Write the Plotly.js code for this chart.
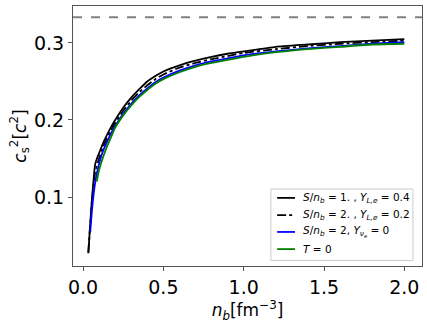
<!DOCTYPE html>
<html>
<head>
<meta charset="utf-8">
<script src="https://cdn.plot.ly/plotly-3.0.1.min.js"></script>
<style>html,body{margin:0;padding:0;background:#fff;}#chart{width:427px;height:325px;}</style>
</head>
<body>
<div id="chart"></div>
<script>
// Series 1: S/n_b = 1., Y_L,e = 0.4
const nb1 = [0.033,0.045,0.055,0.065,0.075,0.085,0.1,0.125,0.15,0.175,0.2,0.25,0.3,0.35,0.4,0.45,0.5,0.6,0.7,0.8,0.9,1.0,1.2,1.4,1.6,1.8,2.0];
const cs1 = [0.027,0.066,0.096,0.121,0.142,0.149,0.157,0.170,0.181,0.191,0.200,0.216,0.229,0.240,0.250,0.257,0.263,0.271,0.277,0.282,0.286,0.289,0.295,0.298,0.301,0.303,0.305];
// Series 2: S/n_b = 2., Y_L,e = 0.2
const nb2 = [0.033,0.045,0.055,0.065,0.075,0.085,0.1,0.125,0.15,0.175,0.2,0.25,0.3,0.35,0.4,0.45,0.5,0.6,0.7,0.8,0.9,1.0,1.2,1.4,1.6,1.8,2.0];
const cs2 = [0.028,0.066,0.094,0.115,0.132,0.140,0.150,0.165,0.177,0.187,0.196,0.212,0.225,0.236,0.245,0.253,0.259,0.268,0.274,0.279,0.283,0.287,0.292,0.296,0.299,0.301,0.303];
// Series 3: S/n_b = 2, Y_nu_e = 0
const nb3 = [0.045,0.055,0.065,0.075,0.085,0.1,0.125,0.15,0.175,0.2,0.25,0.3,0.35,0.4,0.45,0.5,0.6,0.7,0.8,0.9,1.0,1.2,1.4,1.6,1.8,2.0];
const cs3 = [0.055,0.082,0.102,0.118,0.130,0.143,0.160,0.172,0.183,0.192,0.208,0.221,0.232,0.241,0.249,0.255,0.264,0.271,0.276,0.280,0.284,0.289,0.293,0.296,0.299,0.301];
// Series 4: T = 0
const nb4 = [0.085,0.1,0.125,0.15,0.175,0.2,0.25,0.3,0.35,0.4,0.45,0.5,0.6,0.7,0.8,0.9,1.0,1.2,1.4,1.6,1.8,2.0];
const cs4 = [0.120,0.135,0.152,0.166,0.178,0.190,0.206,0.219,0.230,0.239,0.247,0.253,0.262,0.269,0.274,0.278,0.282,0.288,0.292,0.295,0.298,0.299];
// Conformal limit
const conformal = 1/3;
const xRange = [-0.0625, 2.11];
const yRange = [0.0104, 0.348];

const names = [
  "<i>S</i>/<i>n</i><sub><i>b</i></sub> = 1. , <i>Y</i><sub><i>L,e</i></sub> = 0.4",
  "<i>S</i>/<i>n</i><sub><i>b</i></sub> = 2. , <i>Y</i><sub><i>L,e</i></sub> = 0.2",
  "<i>S</i>/<i>n</i><sub><i>b</i></sub> = 2, <i>Y</i><sub><i>ν<sub>e</sub></i></sub> = 0",
  "<i>T</i> = 0"
];
const colors = ['#000000', '#000000', '#0000ff', '#008000'];
const dashes = ['solid', 'dashdot', 'solid', 'solid'];

const series = [[nb1, cs1], [nb2, cs2], [nb3, cs3], [nb4, cs4]];
const traces = series.map((s, i) => ({
  x: s[0], y: s[1], mode: 'lines', name: names[i], showlegend: false,
  line: {color: colors[i], width: 1.8, dash: dashes[i], shape: 'spline', smoothing: 0.5}
}));
traces.push({x: xRange, y: [conformal, conformal], mode: 'lines', showlegend: false,
  line: {color: '#808080', width: 2, dash: 'dash'}});

// Manual legend (compact like the reference)
const legX0 = 0.567, legX1 = 0.974, legY0 = 0.021, legY1 = 0.296;
const rowY = [0.262, 0.196, 0.131, 0.065];
const shapes = [{type: 'rect', xref: 'paper', yref: 'paper', x0: legX0, x1: legX1, y0: legY0, y1: legY1,
  line: {color: '#cccccc', width: 1}, fillcolor: 'rgba(255,255,255,0.85)', layer: 'above'}];
const annotations = [];
rowY.forEach((y, i) => {
  shapes.push({type: 'line', xref: 'paper', yref: 'paper', x0: 0.585, x1: 0.636, y0: y, y1: y,
    line: {color: colors[i], width: 1.8, dash: dashes[i]}, layer: 'above'});
  annotations.push({xref: 'paper', yref: 'paper', x: 0.654, y: y, xanchor: 'left', yanchor: 'middle',
    text: names[i], showarrow: false, font: {family: 'DejaVu Sans', size: 10.5, color: '#000'}});
});

const axisCommon = {
  showgrid: false, zeroline: false, showline: true, mirror: true,
  linecolor: '#555', linewidth: 1, ticks: 'outside', ticklen: 4, tickcolor: '#555',
  tickfont: {family: 'DejaVu Sans', size: 19, color: '#000'}
};

const layout = {
  width: 427, height: 325,
  margin: {l: 73, r: 5, t: 6, b: 59},
  paper_bgcolor: '#fff', plot_bgcolor: '#fff',
  font: {family: 'DejaVu Sans', color: '#000'},
  xaxis: Object.assign({}, axisCommon, {
    range: xRange, tickvals: [0, 0.5, 1.0, 1.5, 2.0], ticktext: ['0.0','0.5','1.0','1.5','2.0'],
    title: {text: '<i>n</i><sub><i>b</i></sub>[fm<sup>−3</sup>]', font: {family: 'DejaVu Sans', size: 17}, standoff: 2}
  }),
  yaxis: Object.assign({}, axisCommon, {
    range: yRange, tickvals: [0.1, 0.2, 0.3], ticktext: ['0.1','0.2','0.3'],
    title: {text: '<i>c</i><sub>s</sub><sup>2</sup>[<i>c</i><sup>2</sup>]', font: {family: 'DejaVu Sans', size: 17}, standoff: 3}
  }),
  shapes: shapes,
  annotations: annotations,
  showlegend: false
};

Plotly.newPlot('chart', traces, layout, {staticPlot: true, displayModeBar: false});
</script>
</body>
</html>
